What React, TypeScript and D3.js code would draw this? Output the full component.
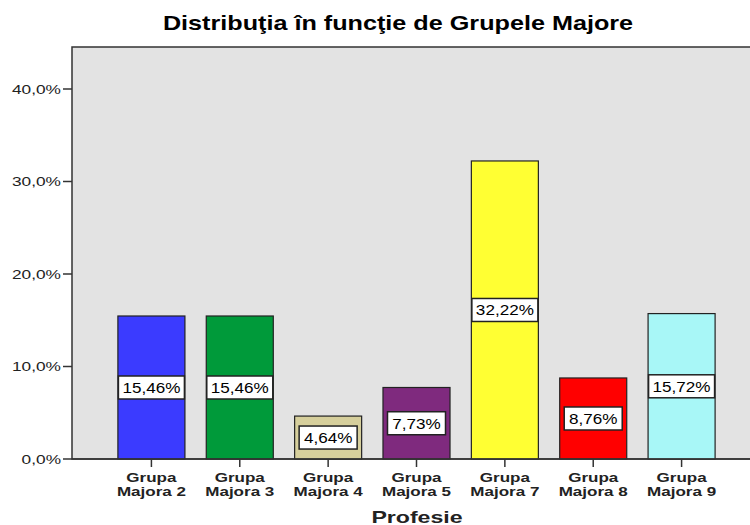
import React from "react";
import * as d3 from "d3";

const categories = ["Grupa Majora 2", "Grupa Majora 3", "Grupa Majora 4", "Grupa Majora 5", "Grupa Majora 7", "Grupa Majora 8", "Grupa Majora 9"];
const values = [15.46, 15.46, 4.64, 7.73, 32.22, 8.76, 15.72];
const colors = ["#3b3bff", "#009a3a", "#d6cf9c", "#7f2a7e", "#ffff33", "#ff0000", "#a8f7f7"];
const yTicks = [0, 10, 20, 30, 40];
const title = "Distribuţia în funcţie de Grupele Majore";
const xTitle = "Profesie";

const W = 750, H = 525;
const plotL = 72, plotT = 47, plotR = 752, plotB = 459;

function SText(props: { x: number; y: number; sx: number; anchor?: string; size: number; bold?: boolean; fill?: string; children: React.ReactNode }) {
  const { x, y, sx, anchor = "middle", size, bold, fill = "#000", children } = props;
  return (
    <text transform={`translate(${x},${y}) scale(${sx},1)`} textAnchor={anchor} fontSize={size} fontWeight={bold ? "bold" : "normal"} fill={fill}>
      {children}
    </text>
  );
}

export default function App() {
  const y = d3.scaleLinear().domain([0, 40]).range([459, 89]);
  const x = d3.scaleBand<string>().domain(categories).range([107.3, 725.7]).paddingInner(0.2415).paddingOuter(0.12);
  const fmt = (v: number) => v.toFixed(1).replace(".", ",") + "%";
  const fmtL = (v: number) => v.toFixed(2).replace(".", ",") + "%";
  const font = "Liberation Sans, Arial, sans-serif";
  return (
    <svg width={W} height={H} style={{ position: "absolute", left: 0, top: 0, background: "#fff" }} fontFamily={font}>
      <SText x={398} y={30} sx={1.26} size={20} bold>{title}</SText>
      <rect x={plotL} y={plotT} width={plotR - plotL} height={plotB - plotT} fill="#e3e3e3" stroke="#333" strokeWidth={1.5} />
      {yTicks.map((t) => (
        <g key={t}>
          <line x1={63} x2={plotL} y1={y(t)} y2={y(t)} stroke="#333" strokeWidth={1.5} />
          <SText x={61} y={y(t) + 4.5} sx={1.33} anchor="end" size={13} fill="#222">{fmt(t)}</SText>
        </g>
      ))}
      {categories.map((c, i) => {
        const bx = x(c)!;
        const bw = x.bandwidth();
        const top = y(values[i]);
        const mid = (top + y(0)) / 2;
        const cx = bx + bw / 2;
        const [l1, ...rest] = c.split(" ");
        const lw = values[i] >= 10 ? 66 : 58;
        return (
          <g key={c}>
            <rect x={bx} y={top} width={bw} height={y(0) - top} fill={colors[i]} stroke="#222" strokeWidth={1.2} />
            <rect x={cx - lw / 2} y={mid - 11.5} width={lw} height={23} fill="#fff" stroke="#222" strokeWidth={1.5} />
            <SText x={cx} y={mid + 5.5} sx={1.14} size={15}>{fmtL(values[i])}</SText>
            <line x1={cx} x2={cx} y1={plotB} y2={plotB + 8} stroke="#333" strokeWidth={1.5} />
            <SText x={cx} y={482} sx={1.42} size={12} bold fill="#222">{l1}</SText>
            <SText x={cx} y={495.5} sx={1.42} size={12} bold fill="#222">{rest.join(" ")}</SText>
          </g>
        );
      })}
      <line x1={plotL} x2={plotR} y1={plotB} y2={plotB} stroke="#333" strokeWidth={1.5} />
      <SText x={417} y={523} sx={1.36} size={17} bold fill="#222">{xTitle}</SText>
    </svg>
  );
}
